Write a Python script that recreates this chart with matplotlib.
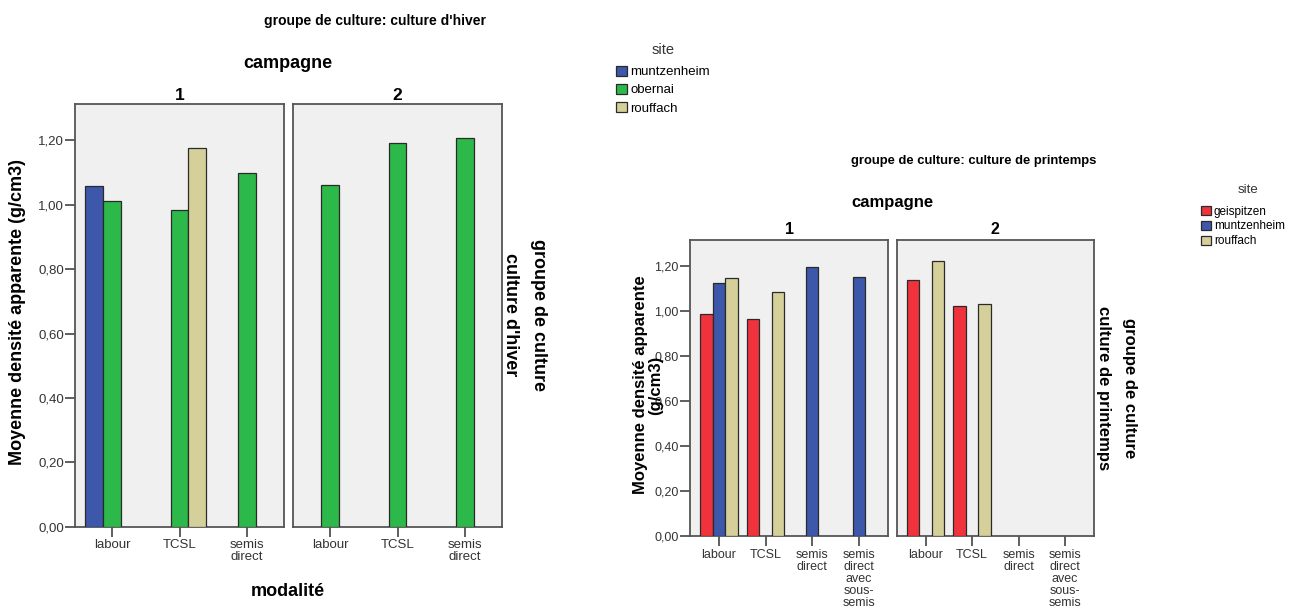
import matplotlib
matplotlib.use('Agg')
import matplotlib.pyplot as plt
import numpy as np
from matplotlib.patches import Patch

plt.rcParams['font.family'] = ['Liberation Sans', 'DejaVu Sans']

# ---- data ----
ytick_vals = [0.0, 0.2, 0.4, 0.6, 0.8, 1.0, 1.2]
ytick_labels = ['0,00', '0,20', '0,40', '0,60', '0,80', '1,00', '1,20']
campagnes = ['1', '2']

# culture d'hiver
hiver_modalites = ['labour', 'TCSL', 'semis\ndirect']
hiver_sites = ['muntzenheim', 'obernai', 'rouffach']
hiver_c1_muntzenheim = [1.058, np.nan, np.nan]
hiver_c1_obernai = [1.013, 0.983, 1.098]
hiver_c1_rouffach = [np.nan, 1.176, np.nan]
hiver_c2_muntzenheim = [np.nan, np.nan, np.nan]
hiver_c2_obernai = [1.062, 1.191, 1.208]
hiver_c2_rouffach = [np.nan, np.nan, np.nan]

# culture de printemps
print_modalites = ['labour', 'TCSL', 'semis\ndirect', 'semis\ndirect\navec\nsous-\nsemis']
print_sites = ['geispitzen', 'muntzenheim', 'rouffach']
print_c1_geispitzen = [0.985, 0.963, np.nan, np.nan]
print_c1_muntzenheim = [1.123, np.nan, 1.194, 1.150]
print_c1_rouffach = [1.145, 1.083, np.nan, np.nan]
print_c2_geispitzen = [1.139, 1.021, np.nan, np.nan]
print_c2_muntzenheim = [np.nan, np.nan, np.nan, np.nan]
print_c2_rouffach = [1.222, 1.030, np.nan, np.nan]

colors = {'muntzenheim': '#3D57AA', 'obernai': '#2DB84A',
          'rouffach': '#D5D09A', 'geispitzen': '#EF323C'}

W, H = 1290, 609
fig = plt.figure(figsize=(W / 100, H / 100), dpi=100)


def fx(x):
    return x / W


def fy(y):
    return 1 - y / H


def panel(left, right, top, bottom):
    return fig.add_axes([fx(left), fy(bottom), (right - left) / W, (bottom - top) / H])


def draw_panel(ax, mods, sites, series, ylim, pad, bw, first, fs):
    x = np.arange(len(mods))
    for k, (site, vals) in enumerate(zip(sites, series)):
        vals = np.array(vals, dtype=float)
        m = ~np.isnan(vals)
        ax.bar(x[m] + (k - 1) * bw, vals[m], width=bw, color=colors[site],
               edgecolor='#2a2a2a', linewidth=0.9, zorder=3)
    ax.set_facecolor('#F0F0F0')
    ax.set_xlim(-pad, len(mods) - 1 + pad)
    ax.set_ylim(0, ylim)
    ax.set_xticks(x)
    ax.set_xticklabels(mods, fontsize=fs, color='#333333', linespacing=1.0)
    ax.tick_params(axis='x', length=7, width=1.2, color='#444444', pad=2)
    if first:
        ax.set_yticks(ytick_vals)
        ax.set_yticklabels(ytick_labels, fontsize=fs, color='#333333')
        ax.tick_params(axis='y', length=7, width=1.2, color='#444444', pad=1)
    else:
        ax.set_yticks([])
    for s in ax.spines.values():
        s.set_color('#555555')
        s.set_linewidth(1.3)


def site_legend(sites, x, y_title, y_top, fs, spacing):
    fig.text(fx(x + 47), fy(y_title), 'site', ha='center', va='center',
             fontsize=fs + 1, color='#333333')
    fig.legend(handles=[Patch(facecolor=colors[s], edgecolor='#2a2a2a', linewidth=0.9)
                        for s in sites],
               labels=sites, loc='upper left', bbox_to_anchor=(fx(x), fy(y_top)),
               frameon=False, fontsize=fs, handlelength=0.85, handleheight=0.85,
               handletextpad=0.25, labelspacing=spacing, borderpad=0, borderaxespad=0)


# ---- chart 1 : culture d'hiver ----
a1 = panel(75, 284, 104, 526.7)
a2 = panel(293, 502, 104, 526.7)
draw_panel(a1, hiver_modalites, hiver_sites,
           [hiver_c1_muntzenheim, hiver_c1_obernai, hiver_c1_rouffach],
           1.313, 0.55, 0.265, True, 9.5)
draw_panel(a2, hiver_modalites, hiver_sites,
           [hiver_c2_muntzenheim, hiver_c2_obernai, hiver_c2_rouffach],
           1.313, 0.55, 0.265, False, 9.5)

fig.text(fx(375), fy(21), "groupe de culture: culture d'hiver", ha='center', va='center',
         fontsize=10, fontweight='bold')
fig.text(fx(288), fy(63), 'campagne', ha='center', va='center', fontsize=13, fontweight='bold')
fig.text(fx(180), fy(95), campagnes[0], ha='center', va='center', fontsize=12.5, fontweight='bold')
fig.text(fx(397), fy(95), campagnes[1], ha='center', va='center', fontsize=12.5, fontweight='bold')
fig.text(fx(288), fy(592), 'modalité', ha='center', va='center', fontsize=13, fontweight='bold')
fig.text(fx(18), fy(312), 'Moyenne densité apparente (g/cm3)', rotation=90, ha='center',
         va='center', fontsize=13, fontweight='bold')
fig.text(fx(510), fy(315), "culture d'hiver", rotation=270, ha='center', va='center',
         fontsize=13, fontweight='bold')
fig.text(fx(539), fy(315), 'groupe de culture', rotation=270, ha='center', va='center',
         fontsize=13, fontweight='bold')

site_legend(hiver_sites, 616, 50, 65.5, 9.5, 0.4)

# ---- chart 2 : culture de printemps ----
b1 = panel(690, 887.7, 240, 536)
b2 = panel(896.7, 1094, 240, 536)
draw_panel(b1, print_modalites, print_sites,
           [print_c1_geispitzen, print_c1_muntzenheim, print_c1_rouffach],
           1.316, 0.62, 0.268, True, 9)
draw_panel(b2, print_modalites, print_sites,
           [print_c2_geispitzen, print_c2_muntzenheim, print_c2_rouffach],
           1.316, 0.62, 0.268, False, 9)

fig.text(fx(974), fy(161), 'groupe de culture: culture de printemps', ha='center', va='center',
         fontsize=9.4, fontweight='bold')
fig.text(fx(892), fy(202), 'campagne', ha='center', va='center', fontsize=12, fontweight='bold')
fig.text(fx(789), fy(229), campagnes[0], ha='center', va='center', fontsize=11.5, fontweight='bold')
fig.text(fx(995), fy(229), campagnes[1], ha='center', va='center', fontsize=11.5, fontweight='bold')
fig.text(fx(648), fy(385), 'Moyenne densité apparente\n(g/cm3)', rotation=90, ha='center',
         va='center', multialignment='center', fontsize=12, fontweight='bold', linespacing=1.0)
fig.text(fx(1103), fy(388), 'culture de printemps', rotation=270, ha='center', va='center',
         fontsize=12, fontweight='bold')
fig.text(fx(1130), fy(388), 'groupe de culture', rotation=270, ha='center', va='center',
         fontsize=12, fontweight='bold')

site_legend(print_sites, 1201, 190, 205.5, 8.5, 0.25)

fig.savefig('out.png', dpi=100, facecolor='white')
